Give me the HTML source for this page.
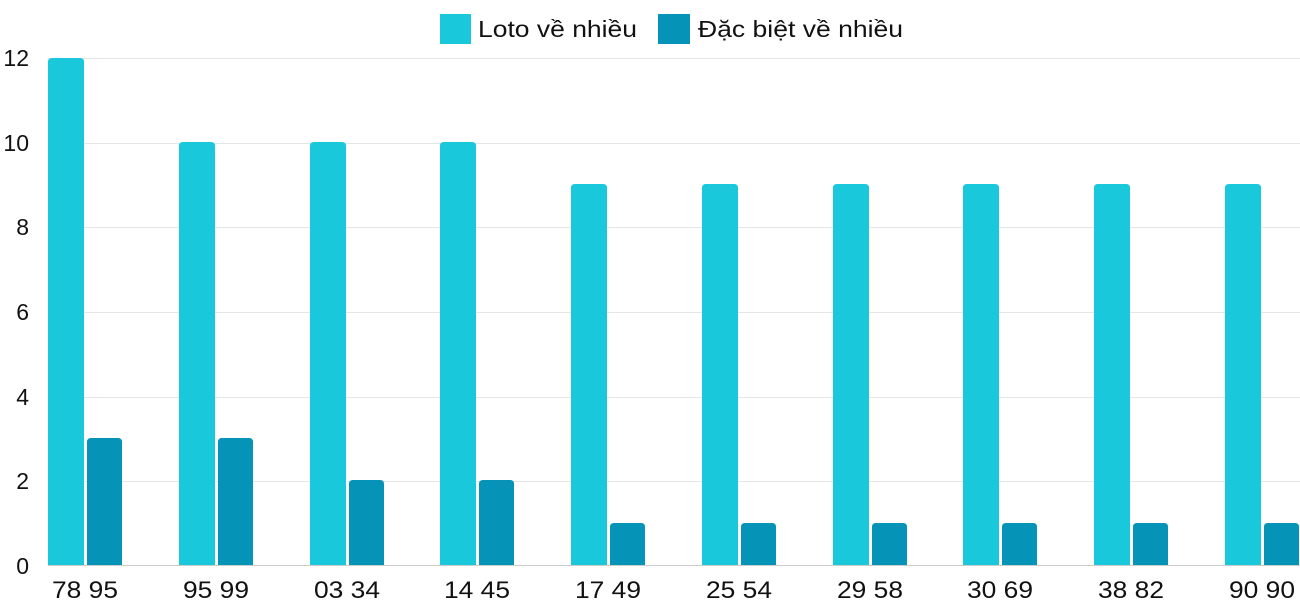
<!DOCTYPE html>
<html><head><meta charset="utf-8"><style>html,body{margin:0;padding:0;background:#fff}svg{display:block}text{font-family:"Liberation Sans",sans-serif;fill:#111}</style></head>
<body>
<svg width="1300" height="600" xmlns="http://www.w3.org/2000/svg">
<g stroke="#e6e6e6" stroke-width="1">
<line x1="48" x2="1300" y1="58.5" y2="58.5"/>
<line x1="48" x2="1300" y1="143.5" y2="143.5"/>
<line x1="48" x2="1300" y1="227.5" y2="227.5"/>
<line x1="48" x2="1300" y1="312.5" y2="312.5"/>
<line x1="48" x2="1300" y1="397.5" y2="397.5"/>
<line x1="48" x2="1300" y1="481.5" y2="481.5"/>
</g>
<g font-size="23" text-anchor="end">
<text x="29" y="66">12</text><text x="29" y="151">10</text><text x="29" y="235">8</text>
<text x="29" y="320">6</text><text x="29" y="405">4</text><text x="29" y="489">2</text><text x="29" y="574">0</text>
</g>
<g fill="#1ac8db">
<path d="M48 565V62Q48 58 52 58H80Q84 58 84 62V565Z"/>
<path d="M179 565V146Q179 142 183 142H211Q215 142 215 146V565Z"/>
<path d="M310 565V146Q310 142 314 142H342Q346 142 346 146V565Z"/>
<path d="M440 565V146Q440 142 444 142H472Q476 142 476 146V565Z"/>
<path d="M571 565V188Q571 184 575 184H603Q607 184 607 188V565Z"/>
<path d="M702 565V188Q702 184 706 184H734Q738 184 738 188V565Z"/>
<path d="M833 565V188Q833 184 837 184H865Q869 184 869 188V565Z"/>
<path d="M963 565V188Q963 184 967 184H995Q999 184 999 188V565Z"/>
<path d="M1094 565V188Q1094 184 1098 184H1126Q1130 184 1130 188V565Z"/>
<path d="M1225 565V188Q1225 184 1229 184H1257Q1261 184 1261 188V565Z"/>
</g>
<g fill="#0593b8">
<path d="M87 565V442Q87 438 91 438H118Q122 438 122 442V565Z"/>
<path d="M218 565V442Q218 438 222 438H249Q253 438 253 442V565Z"/>
<path d="M349 565V484Q349 480 353 480H380Q384 480 384 484V565Z"/>
<path d="M479 565V484Q479 480 483 480H510Q514 480 514 484V565Z"/>
<path d="M610 565V527Q610 523 614 523H641Q645 523 645 527V565Z"/>
<path d="M741 565V527Q741 523 745 523H772Q776 523 776 527V565Z"/>
<path d="M872 565V527Q872 523 876 523H903Q907 523 907 527V565Z"/>
<path d="M1002 565V527Q1002 523 1006 523H1033Q1037 523 1037 527V565Z"/>
<path d="M1133 565V527Q1133 523 1137 523H1164Q1168 523 1168 527V565Z"/>
<path d="M1264 565V527Q1264 523 1268 523H1295Q1299 523 1299 527V565Z"/>
</g>
<line x1="48" x2="1300" y1="565.5" y2="565.5" stroke="#ccc" stroke-width="1"/>
<rect x="440" y="14" width="31" height="30" fill="#1ac8db"/>
<text x="478" y="37" font-size="23" textLength="159" lengthAdjust="spacingAndGlyphs">Loto về nhiều</text>
<rect x="658" y="14" width="32" height="30" fill="#0593b8"/>
<text x="698" y="37" font-size="23" textLength="205" lengthAdjust="spacingAndGlyphs">Đặc biệt về nhiều</text>
<g font-size="24">
<text x="52" y="598" textLength="66" lengthAdjust="spacingAndGlyphs">78 95</text>
<text x="183" y="598" textLength="66" lengthAdjust="spacingAndGlyphs">95 99</text>
<text x="314" y="598" textLength="66" lengthAdjust="spacingAndGlyphs">03 34</text>
<text x="444" y="598" textLength="66" lengthAdjust="spacingAndGlyphs">14 45</text>
<text x="575" y="598" textLength="66" lengthAdjust="spacingAndGlyphs">17 49</text>
<text x="706" y="598" textLength="66" lengthAdjust="spacingAndGlyphs">25 54</text>
<text x="837" y="598" textLength="66" lengthAdjust="spacingAndGlyphs">29 58</text>
<text x="967" y="598" textLength="66" lengthAdjust="spacingAndGlyphs">30 69</text>
<text x="1098" y="598" textLength="66" lengthAdjust="spacingAndGlyphs">38 82</text>
<text x="1229" y="598" textLength="66" lengthAdjust="spacingAndGlyphs">90 90</text>
</g>
</svg>
</body></html>
